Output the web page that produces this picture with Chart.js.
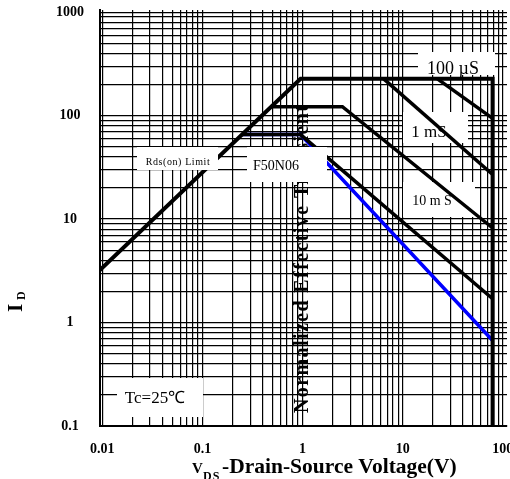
<!DOCTYPE html>
<html>
<head>
<meta charset="utf-8">
<script src="https://cdn.jsdelivr.net/npm/chart.js@4.4.1/dist/chart.umd.min.js"></script>
<style>
html,body{margin:0;padding:0;background:#fff}
#wrap{width:510px;height:479px;position:relative}
</style>
</head>
<body>
<div id="wrap"><canvas id="soa"></canvas></div>
<script>
// tick labels
const xMajor = [0.01, 0.1, 1, 10, 100]
const xLabels = ["0.01", "0.1", "1", "10", "100"]
const yMajor = [0.1, 1, 10, 100, 1000]
const yLabels = ["0.1", "1", "10", "100", "1000"]

// curves (VDS in V, ID in A)
const limitX = [0.0091, 0.955, 79, 79]
const limitY = [3.1, 227, 227, 0.1]
const us100X = [22.2, 79]
const us100Y = [227, 94]
const ms1X = [6.46, 79]
const ms1Y = [227, 27]
const ms10X = [0.5, 2.5, 79]
const ms10Y = [122, 122, 8.2]
const dcX = [0.25, 0.955, 79]
const dcY = [65.6, 65.6, 1.7]
const blueX = [0.25, 0.955, 79]
const blueY = [65.6, 65.6, 0.67]

const SERIF = "'Liberation Serif', 'Times New Roman', serif"

function pts(xs, ys){
  return xs.map((x,i)=>({x:x, y:ys[i]}))
}

// 1..9 in every decade, for the grid
function logTicks(majors){
  const out=[]
  majors.forEach((m,i)=>{
    if(i<majors.length-1){
      for(let k=1;k<10;k++) out.push(m*k)
    } else out.push(m)
  })
  return out
}

function labelFor(v, majors, labels){
  const i = majors.findIndex(m=>Math.abs(v/m-1)<1e-6)
  return i<0 ? "" : labels[i]
}

function line(data, color, width){
  return {
    data:data,
    borderColor:color,
    borderWidth:width,
    showLine:true,
    pointRadius:0,
    fill:false,
    tension:0
  }
}

function whiteBox(ctx,x1,y1,x2,y2){
  ctx.fillStyle="#fff"
  ctx.fillRect(x1,y1,x2-x1,y2-y1)
}

function text(ctx,str,x,y,font,align){
  ctx.font=font
  ctx.fillStyle="#000"
  ctx.textAlign=align||"center"
  ctx.textBaseline="alphabetic"
  ctx.fillText(str,x,y)
}

const decorations = {
  id:"decorations",
  beforeDraw(chart){
    const ctx=chart.ctx
    ctx.save()
    ctx.fillStyle="#fff"
    ctx.fillRect(0,0,chart.width,chart.height)
    // vertical caption sits under the grid
    ctx.translate(308,413)
    ctx.rotate(-Math.PI/2)
    ctx.letterSpacing="1.4px"
    text(ctx,"Normalized Effective Transient",0,0,"bold 20px "+SERIF,"left")
    ctx.restore()
  },
  beforeDatasetsDraw(chart){
    const ctx=chart.ctx
    ctx.save()
    whiteBox(ctx,418,52,495,75)
    text(ctx,"100 \u00b5S",453,74,"18px "+SERIF)
    whiteBox(ctx,403,112,468,143)
    text(ctx,"1 mS",429,137,"17px "+SERIF)
    whiteBox(ctx,403,182,475,217)
    text(ctx,"10 m S",432,205,"14px "+SERIF)
    whiteBox(ctx,117,378,203,417)
    text(ctx,"Tc=25\u2103",155,403,"17px "+SERIF)
    ctx.restore()
  },
  afterDatasetsDraw(chart){
    const ctx=chart.ctx
    ctx.save()
    whiteBox(ctx,137,147,218,170)
    ctx.letterSpacing="0.6px"
    text(ctx,"Rds(on) Limit",178,165,"10px "+SERIF)
    ctx.letterSpacing="0px"
    whiteBox(ctx,247,147,327,182)
    text(ctx,"F50N06",276,170,"14px "+SERIF)
    ctx.restore()
  },
  afterDraw(chart){
    const ctx=chart.ctx
    ctx.save()
    // x axis title
    text(ctx,"V",192,473,"bold 15px "+SERIF,"left")
    ctx.letterSpacing="1px"
    text(ctx,"DS",203,480,"bold 12px "+SERIF,"left")
    ctx.letterSpacing="0px"
    text(ctx,"-Drain-Source Voltage(V)",222,473,"bold 21.5px "+SERIF,"left")
    // y axis title
    ctx.translate(22,312)
    ctx.rotate(-Math.PI/2)
    text(ctx,"I",0,0,"bold 21px "+SERIF,"left")
    text(ctx,"D",12,3,"bold 12px "+SERIF,"left")
    ctx.restore()
  }
}

new Chart(document.getElementById("soa"),{
  type:"scatter",
  data:{
    datasets:[
      line(pts(limitX,limitY),"#000",4),
      line(pts(us100X,us100Y),"#000",3.5),
      line(pts(ms1X,ms1Y),"#000",3.5),
      line(pts(ms10X,ms10Y),"#000",3.5),
      line(pts(dcX,dcY),"#000",3.5),
      line(pts(blueX,blueY),"#0000ff",3.5)
    ]
  },
  options:{
    responsive:true,
    maintainAspectRatio:false,
    animation:false,
    layout:{padding:{top:10,right:3,left:0,bottom:0}},
    plugins:{legend:{display:false},tooltip:{enabled:false}},
    scales:{
      x:{
        type:"logarithmic",
        min:0.0095,
        max:110,
        grid:{color:"#000",lineWidth:1.2,drawTicks:false},
        border:{color:"#000",width:2},
        afterBuildTicks(s){ s.ticks=logTicks(xMajor).map(v=>({value:v})) },
        afterFit(s){ s.height=53; s.paddingLeft=0; s.paddingRight=0 },
        ticks:{
          autoSkip:false,
          maxRotation:0,
          padding:15,
          color:"#000",
          font:{family:SERIF,size:14,weight:"bold"},
          callback:v=>labelFor(v,xMajor,xLabels)
        }
      },
      y:{
        type:"logarithmic",
        min:0.1,
        max:1050,
        grid:{color:"#000",lineWidth:1.2,drawTicks:false},
        border:{color:"#000",width:2},
        afterBuildTicks(s){ s.ticks=logTicks(yMajor).map(v=>({value:v})) },
        afterFit(s){ s.width=100; s.paddingTop=0; s.paddingBottom=0 },
        ticks:{
          autoSkip:false,
          padding:16,
          crossAlign:"center",
          color:"#000",
          font:{family:SERIF,size:14,weight:"bold"},
          callback:v=>labelFor(v,yMajor,yLabels)
        }
      }
    }
  },
  plugins:[decorations]
})
</script>
</body>
</html>
